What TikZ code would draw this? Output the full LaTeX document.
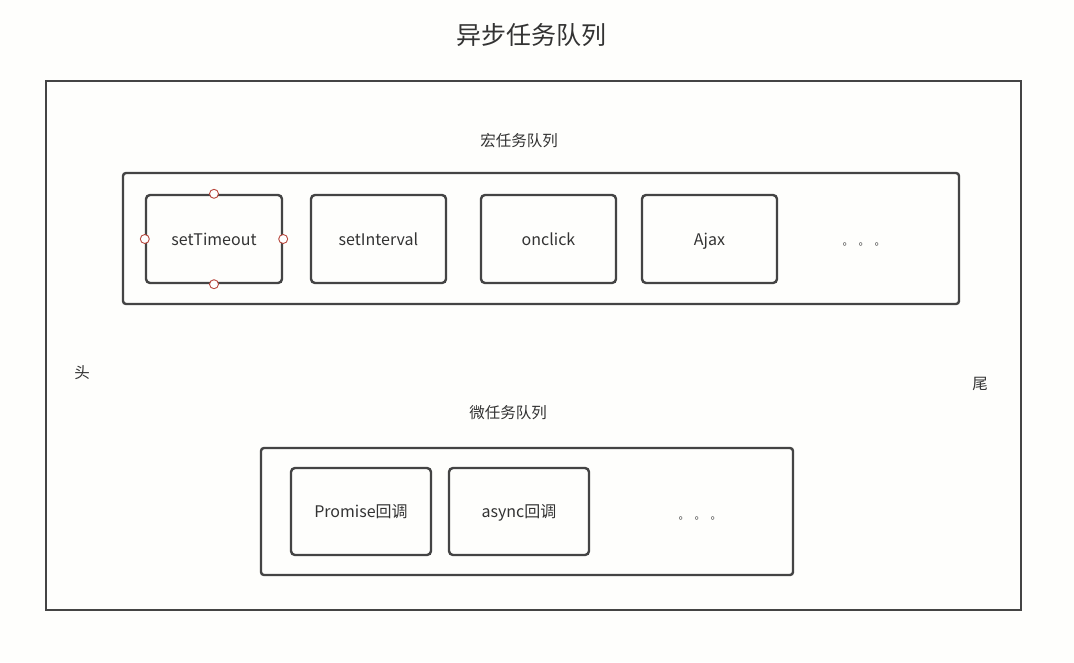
\documentclass[tikz,border=0pt]{standalone}
\usepackage{fontspec}
\setmainfont{Noto Sans CJK SC}
\definecolor{bg}{HTML}{FEFEFC}
\definecolor{ln}{HTML}{444444}
\definecolor{tx}{HTML}{333333}
\definecolor{pt}{HTML}{B8483E}
\begin{document}
\begin{tikzpicture}[x=1pt,y=-1pt,
  panel/.style={draw=ln,line width=2.4pt,rounded corners=3pt},
  task/.style={draw=ln,line width=2.4pt,rounded corners=4pt,text=tx,font=\fontsize{16}{19}\selectfont,text height=13pt,text depth=1pt},
  lbl/.style={text=tx,font=\fontsize{15.5}{18}\selectfont},
  dots/.style={text=tx,font=\fontsize{11}{13}\selectfont},
  port/.style={circle,draw=pt,fill=white,line width=0.9pt,inner sep=0pt,minimum size=9pt}]
\fill[bg] (0,0) rectangle (1074,662);
\useasboundingbox (0,0) rectangle (1074,662);
\node[text=tx,font=\fontsize{25}{29}\selectfont] (title) at (531,35) {异步任务队列};
\draw[ln,line width=2.2pt] (46,81) rectangle (1021,610);
\node[lbl] (head) at (82,373) {头};
\node[lbl] (tail) at (980,384) {尾};
% macro
\draw[panel] (123,173) rectangle (959,304);
\node[lbl] (macro) at (519,141) {宏任务队列};
\node[task,minimum width=136pt,minimum height=88pt] (st) at (214,239) {setTimeout};
\node[task,minimum width=135pt,minimum height=88pt] (si) at (378.5,239) {setInterval};
\node[task,minimum width=135pt,minimum height=88pt] (oc) at (548.5,239) {onclick};
\node[task,minimum width=135pt,minimum height=88pt] (aj) at (709.5,239) {Ajax};
\node[dots] (d1) at (864,244) {。\hspace{5pt}。\hspace{5pt}。};
\node[port] at (st.north) {};
\node[port] at (st.south) {};
\node[port] at (st.west) {};
\node[port] at (st.east) {};
% micro
\draw[panel] (261,448) rectangle (793,575);
\node[lbl] (micro) at (508,413) {微任务队列};
\node[task,minimum width=140pt,minimum height=87pt] (pr) at (361,511.5) {Promise回调};
\node[task,minimum width=140pt,minimum height=87pt] (as) at (519,511.5) {async回调};
\node[dots] (d2) at (700,518) {。\hspace{5pt}。\hspace{5pt}。};
\end{tikzpicture}
\end{document}
